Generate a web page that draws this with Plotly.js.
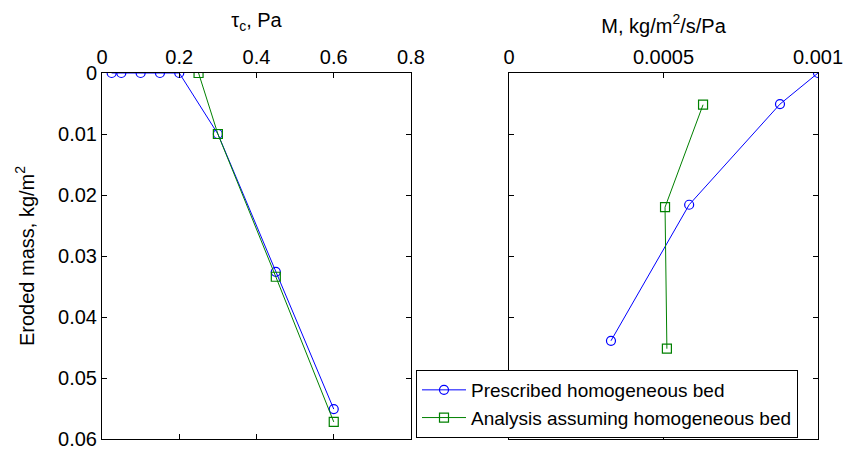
<!DOCTYPE html>
<html>
<head>
<meta charset="utf-8">
<script src="https://cdn.plot.ly/plotly-3.0.1.min.js"></script>
<style>html,body{margin:0;padding:0;background:#fff;}#chart{width:843px;height:450px;}</style>
</head>
<body>
<div id="chart"></div>
<script>
// Left panel: critical shear stress tau_c (Pa) vs eroded mass (kg/m2)
const tauPrescribed = [0.025, 0.05, 0.1, 0.15, 0.2, 0.3, 0.45, 0.6];
const massTauPrescribed = [0, 0, 0, 0, 0, 0.010, 0.0326, 0.0551];
const tauAnalysis = [0.25, 0.3, 0.45, 0.6];
const massTauAnalysis = [0, 0.010, 0.0334, 0.0572];

// Right panel: erosion rate constant M (kg/m2/s/Pa) vs eroded mass
const mPrescribed = [0.001, 0.000877, 0.000583, 0.00033];
const massMPrescribed = [0, 0.0051, 0.0216, 0.0439];
const mAnalysis = [0.000628, 0.000505, 0.000511];
const massMAnalysis = [0.0052, 0.022, 0.0452];

const seriesNames = ['Prescribed homogeneous bed', 'Analysis assuming homogeneous bed'];
const yTicks = [0, 0.01, 0.02, 0.03, 0.04, 0.05, 0.06];
const yTickText = ['0', '0.01', '0.02', '0.03', '0.04', '0.05', '0.06'];
const xTicksLeft = [0, 0.2, 0.4, 0.6, 0.8];
const xTickTextLeft = ['0', '0.2', '0.4', '0.6', '0.8'];
const xTicksRight = [0, 0.0005, 0.001];
const xTickTextRight = ['0', '0.0005', '0.001'];

const blue = '#0000ff', green = '#008000';
const circ = {symbol: 'circle-open', size: 9, color: blue, line: {width: 1.2, color: blue}};
const sq = {symbol: 'square-open', size: 9, color: green, line: {width: 1.2, color: green}};

const traces = [
  {x: tauPrescribed, y: massTauPrescribed, xaxis: 'x', yaxis: 'y', mode: 'lines+markers',
   name: seriesNames[0], legendgroup: 'a', line: {color: blue, width: 1}, marker: circ},
  {x: tauAnalysis, y: massTauAnalysis, xaxis: 'x', yaxis: 'y', mode: 'lines+markers',
   name: seriesNames[1], legendgroup: 'b', line: {color: green, width: 1}, marker: sq},
  {x: mPrescribed, y: massMPrescribed, xaxis: 'x2', yaxis: 'y2', mode: 'lines+markers',
   name: seriesNames[0], legendgroup: 'a', showlegend: false, line: {color: blue, width: 1}, marker: circ},
  {x: mAnalysis, y: massMAnalysis, xaxis: 'x2', yaxis: 'y2', mode: 'lines+markers',
   name: seriesNames[1], legendgroup: 'b', showlegend: false, line: {color: green, width: 1}, marker: sq}
];

const W = 843, H = 450;
const fam = 'Liberation Sans, Arial, sans-serif';
const axBase = {
  showgrid: false, zeroline: false, showline: true, linecolor: '#000', linewidth: 1,
  mirror: 'ticks', ticks: 'inside', ticklen: 5, tickcolor: '#000', tickwidth: 1,
  ticklabeloverflow: 'allow',
  tickfont: {family: fam, size: 20, color: '#000'}
};

const layout = {
  width: W, height: H,
  margin: {l: 0, r: 0, t: 0, b: 0},
  paper_bgcolor: '#fff', plot_bgcolor: '#fff',
  font: {family: fam, size: 20, color: '#000'},
  showlegend: true,
  legend: {x: 416 / W, y: 1 - 370 / H, xanchor: 'left', yanchor: 'top',
           bgcolor: '#fff', bordercolor: '#000', borderwidth: 1, itemwidth: 44,
           font: {family: fam, size: 19, color: '#000'}, tracegroupgap: 0},
  xaxis: Object.assign({}, axBase, {
    domain: [102 / W, 411 / W], anchor: 'y', side: 'top', range: [0, 0.8],
    tickvals: xTicksLeft, ticktext: xTickTextLeft,
    title: {text: 'τ<sub>c</sub>, Pa', font: {family: fam, size: 20, color: '#000'}, standoff: 13}
  }),
  yaxis: Object.assign({}, axBase, {
    domain: [1 - 439 / H, 1 - 73 / H], anchor: 'x', range: [0.06, 0],
    tickvals: yTicks, ticktext: yTickText,
    title: {text: 'Eroded mass, kg/m<sup>2</sup>', font: {family: fam, size: 20, color: '#000'}, standoff: 18}
  }),
  xaxis2: Object.assign({}, axBase, {
    domain: [509 / W, 818 / W], anchor: 'y2', side: 'top', range: [0, 0.001],
    tickvals: xTicksRight, ticktext: xTickTextRight,
    title: {text: 'M, kg/m<sup>2</sup>/s/Pa', font: {family: fam, size: 20, color: '#000'}, standoff: 7}
  }),
  yaxis2: Object.assign({}, axBase, {
    domain: [1 - 439 / H, 1 - 73 / H], anchor: 'x2', range: [0.06, 0],
    tickvals: yTicks, showticklabels: false
  })
};

Plotly.newPlot('chart', traces, layout, {displayModeBar: false, staticPlot: true});
</script>
</body>
</html>
